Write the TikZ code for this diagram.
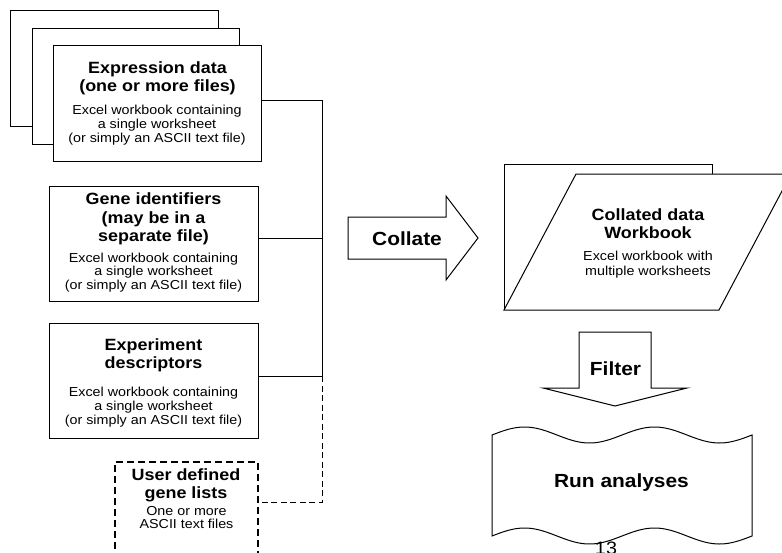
\documentclass[tikz,border=0pt]{standalone}
\usepackage{fontspec}
\setmainfont{Liberation Sans}[FakeStretch=1.1]
\begin{document}
\begin{tikzpicture}[x=1pt,y=-1pt,line join=miter,
  box/.style={draw=black,line width=1pt,fill=white,inner sep=0pt,outer sep=0pt},
  ttl/.style={font=\bfseries\fontsize{16.3}{17.8}\selectfont,align=center,inner sep=0pt},
  sub/.style={font=\fontsize{13}{13.8}\selectfont,align=center,inner sep=0pt},
  big/.style={font=\bfseries\fontsize{19}{21}\selectfont,inner sep=0pt},
  conn/.style={draw=black,line width=1pt},
  dconn/.style={draw=black,line width=1pt,dash pattern=on 6pt off 3.5pt},
  outl/.style={draw=black,line width=1pt,fill=white}]
\useasboundingbox (0,0) rectangle (782,552);
\clip (0,0) rectangle (782,552);
% expression data stack
\node[box,minimum width=208pt,minimum height=116pt] (e1) at (114,68) {};
\node[box,minimum width=207pt,minimum height=116pt] (e2) at (135.5,86) {};
\node[box,minimum width=208pt,minimum height=116pt] (e3) at (157,103) {};
\node[ttl] (e3t) at (157.5,78) {Expression data\\(one or more files)};
\node[sub] (e3s) at (157,125) {Excel workbook containing\\a single worksheet\\(or simply an ASCII text file)};
% gene identifiers
\node[box,minimum width=209pt,minimum height=115pt] (gene) at (153.5,243.5) {};
\node[ttl,font=\bfseries\fontsize{16.3}{18.5}\selectfont] (genet) at (153.5,219) {Gene identifiers\\(may be in a\\separate file)};
\node[sub] (genes) at (153.5,272.5) {Excel workbook containing\\a single worksheet\\(or simply an ASCII text file)};
% experiment descriptors
\node[box,minimum width=209pt,minimum height=115pt] (expd) at (153.5,380.5) {};
\node[ttl] (expdt) at (153.5,355.5) {Experiment\\descriptors};
\node[sub] (expds) at (153.5,407) {Excel workbook containing\\a single worksheet\\(or simply an ASCII text file)};
% user defined gene lists
\node[box,line width=1.8pt,dash pattern=on 7pt off 4pt,minimum width=143pt,minimum height=118pt] (user) at (186.5,521) {};
\node[ttl] (usert) at (186,485) {User defined\\gene lists};
\node[sub] (users) at (186.5,517.5) {One or more\\ASCII text files};
% bus
\coordinate (j1) at (322,100);
\coordinate (j2) at (322,238);
\coordinate (j3) at (322,376);
\coordinate (j4) at (322,502);
\draw[conn] (e3.east |- j1) -- (j1) -- (j3);
\draw[conn] (gene.east |- j2) -- (j2);
\draw[conn] (expd.east |- j3) -- (j3);
\draw[dconn] (j3) -- (j4) -- (user.east |- j4);
% collate arrow
\draw[outl] (348,217) -- (446,217) -- (446,196) -- (478,238) -- (446,280) -- (446,259) -- (348,259) -- cycle;
\node[big] (collate) at (407,239) {Collate};
% collated workbook
\draw[outl] (504,310) -- (504,164) -- (712,164) -- (712,180);
\draw[outl] (504,310) -- (576,174) -- (791,174) -- (719,310) -- cycle;
\node[ttl] (cwt) at (648,223.5) {Collated data\\Workbook};
\node[sub,font=\fontsize{13}{15}\selectfont] (cws) at (648,265) {Excel workbook with\\multiple worksheets};
% filter arrow
\draw[outl] (579,332) -- (651,332) -- (651,388) -- (687,388) -- (615,406) -- (543,388) -- (579,388) -- cycle;
\node[big] (filter) at (615.5,369) {Filter};
% run analyses tape
\draw[outl] plot[domain=0:260,samples=80] ({492+\x},{435-8*sin(\x*2.76923)})
  -- plot[domain=260:0,samples=80] ({492+\x},{536-8*sin(\x*2.76923)}) -- cycle;
\node[big] (run) at (621.5,483) {Run analyses};
\node[font=\fontsize{18}{18}\selectfont,anchor=north,inner sep=0pt] (pg) at (606,542) {13};
\end{tikzpicture}
\end{document}
